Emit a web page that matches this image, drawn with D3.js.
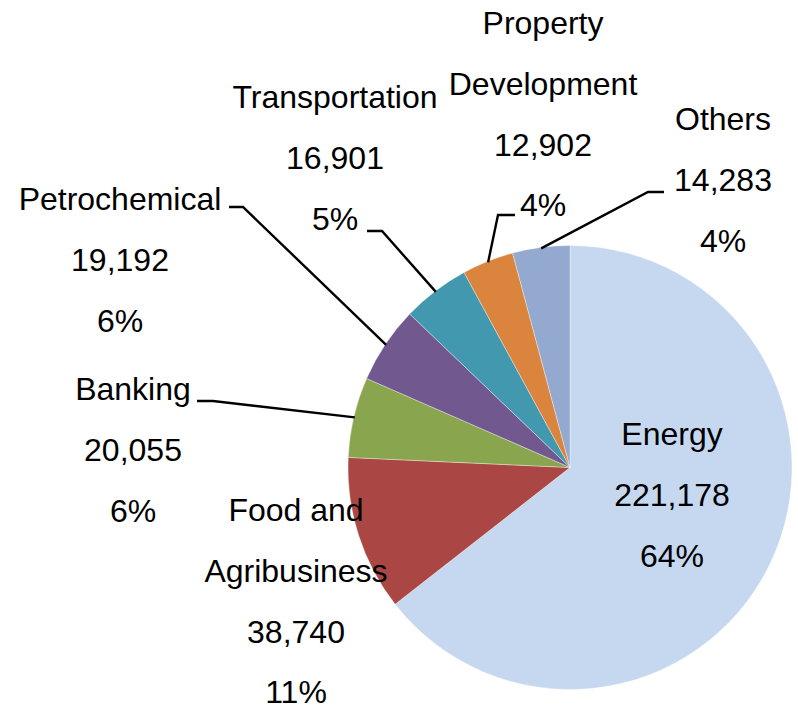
<!DOCTYPE html>
<html>
<head>
<meta charset="utf-8">
<script src="https://cdn.jsdelivr.net/npm/d3@7"></script>
<style>
  html, body { margin: 0; padding: 0; background: #ffffff; }
  svg { display: block; }
  text { font-family: "Liberation Sans", Arial, sans-serif; font-size: 32px; fill: #000; }
</style>
</head>
<body>
<svg id="chart" width="798" height="715"></svg>
<script>
// ---- Data ----
const categories = ["Energy", "Food and Agribusiness", "Banking", "Petrochemical", "Transportation", "Property Development", "Others"];
const values = [221178, 38740, 20055, 19192, 16901, 12902, 14283];
const percentLabels = ["64%", "11%", "6%", "6%", "5%", "4%", "4%"];
const valueLabels = ["221,178", "38,740", "20,055", "19,192", "16,901", "12,902", "14,283"];
const nameLines = [["Energy"], ["Food and", "Agribusiness"], ["Banking"], ["Petrochemical"], ["Transportation"], ["Property", "Development"], ["Others"]];
const colors = ["#c6d8f0", "#aa4643", "#89a54e", "#71588f", "#4198af", "#db843d", "#93a9cf"];

// ---- Layout ----
const cx = 570, cy = 467.5, radius = 222;
const lineGap = 60.8;
// label block: center x, first baseline
const labelPos = [
  { x: 672, y: 445 },
  { x: 296, y: 521 },
  { x: 133, y: 400 },
  { x: 120, y: 210 },
  { x: 335, y: 108 },
  { x: 543, y: 34 },
  { x: 723, y: 130 }
];
// leader lines: elbow and end (null = no leader)
const leaders = [
  null,
  null,
  { elbow: [213, 401], end: [197, 401] },
  { elbow: [243, 207], end: [229, 207] },
  { elbow: [382, 231], end: [367, 231] },
  { elbow: [498, 215], end: [515, 215] },
  { elbow: [648, 192], end: [664, 192] }
];

const svg = d3.select("#chart");
const g = svg.append("g").attr("transform", `translate(${cx},${cy})`);

const pie = d3.pie().sort(null).value(d => d)(values);
const arc = d3.arc().innerRadius(0).outerRadius(radius);

g.selectAll("path.slice")
  .data(pie)
  .join("path")
  .attr("class", "slice")
  .attr("d", arc)
  .attr("fill", (d, i) => colors[i])
  .attr("stroke", "#ffffff")
  .attr("stroke-width", 0.6)
  .attr("stroke-opacity", 0.6);

// leader lines
pie.forEach((d, i) => {
  const L = leaders[i];
  if (!L) return;
  const a = (d.startAngle + d.endAngle) / 2;
  const sx = cx + (radius - 1) * Math.sin(a);
  const sy = cy - (radius - 1) * Math.cos(a);
  svg.append("path")
    .attr("d", d3.line()([[sx, sy], L.elbow, L.end]))
    .attr("fill", "none")
    .attr("stroke", "#000")
    .attr("stroke-width", 2.4);
});

// labels
pie.forEach((d, i) => {
  const lines = nameLines[i].concat([valueLabels[i], percentLabels[i]]);
  const t = svg.append("text")
    .attr("text-anchor", "middle");
  lines.forEach((s, k) => {
    t.append("tspan")
      .attr("x", labelPos[i].x)
      .attr("y", labelPos[i].y + k * lineGap)
      .text(s);
  });
});
</script>
</body>
</html>
